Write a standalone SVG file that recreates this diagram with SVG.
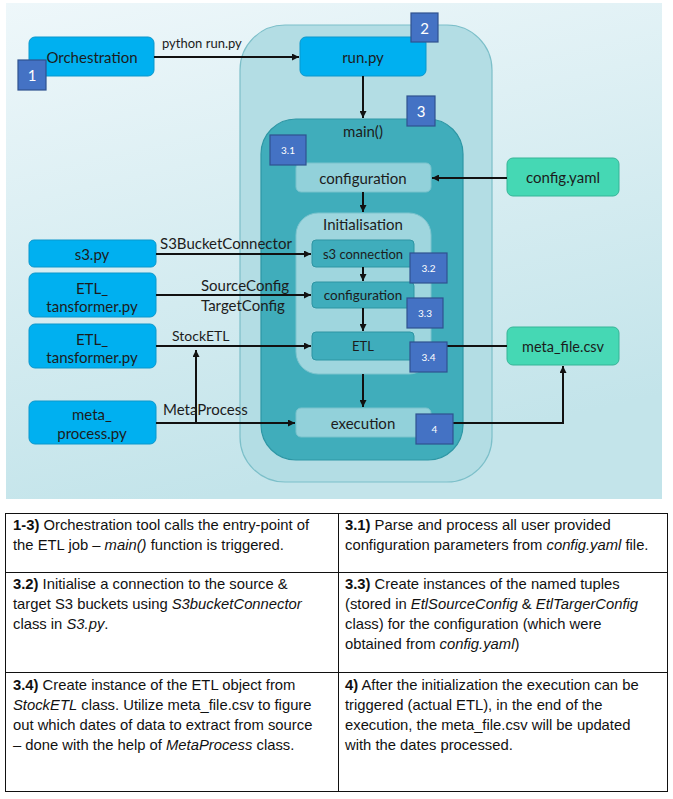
<svg xmlns="http://www.w3.org/2000/svg" width="673" height="799" viewBox="0 0 673 799">
<defs>
<linearGradient id="bg" x1="0" y1="0" x2="0.3" y2="1">
<stop offset="0" stop-color="#eef7fa"/>
<stop offset="1" stop-color="#c3e4ea"/>
</linearGradient>
<marker id="ah" viewBox="0 0 10 10" refX="10" refY="5" markerWidth="7" markerHeight="7" markerUnits="userSpaceOnUse" orient="auto">
<path d="M0,0 L10,5 L0,10 z" fill="#111"/>
</marker>
<style>
.blue{fill:#00b0f0;stroke:#0b97cc;stroke-width:1}
.mint{fill:#45d8b4;stroke:#36b497;stroke-width:1}
.badge{fill:#4472c4;stroke:#2f528f;stroke-width:1.2}
.outer{fill:#b3dde4;stroke:#7cbfc9;stroke-width:1.2}
.main{fill:#40adbb;stroke:#2e97a5;stroke-width:1.2}
.light{fill:#92d1da;stroke:#78c2cc;stroke-width:1}
.init{fill:#9fd6de;stroke:#7cc4ce;stroke-width:1}
.inner{fill:#3fadbc;stroke:#2e95a3;stroke-width:1}
.t{font-family:Lato,"Open Sans",sans-serif;fill:#1c1c1c;text-anchor:middle;dominant-baseline:central}
.bt{font-family:Lato,"Open Sans",sans-serif;fill:#ffffff;text-anchor:middle;dominant-baseline:central}
.lbl{font-family:Lato,"Open Sans",sans-serif;fill:#1c1c1c}
.c{stroke:#111;stroke-width:2;fill:none}
.tb{font-family:"Liberation Sans",Arial,sans-serif;font-size:14.8px;fill:#111}
.tl{stroke:#111;stroke-width:1;fill:none}
</style>
</defs>
<rect x="0" y="0" width="673" height="799" fill="#ffffff"/>
<rect x="6" y="3" width="656" height="496" fill="url(#bg)"/>

<g id="container-runpy"><rect class="outer" x="240" y="25" width="252" height="457" rx="45"/></g>
<g id="container-main"><rect class="main" x="261" y="119" width="202" height="341" rx="35"/>
<text class="t" x="363" y="131" font-size="15">main()</text></g>
<g id="configuration-main"><rect class="light" x="296" y="163" width="135" height="29" rx="5"/>
<text class="t" x="363" y="177.5" font-size="15">configuration</text></g>
<g id="container-initialisation"><rect class="init" x="296" y="213" width="135" height="161" rx="22"/>
<text class="t" x="363" y="224" font-size="15">Initialisation</text></g>
<g id="s3-connection"><rect class="inner" x="312" y="240" width="102" height="27" rx="4"/>
<text class="t" x="363" y="254" font-size="13">s3 connection</text></g>
<g id="configuration-init"><rect class="inner" x="312" y="282" width="102" height="26" rx="4"/>
<text class="t" x="363" y="295" font-size="13.5">configuration</text></g>
<g id="etl"><rect class="inner" x="312" y="332" width="102" height="28" rx="4"/>
<text class="t" x="363" y="346" font-size="13">ETL</text></g>
<g id="execution"><rect class="light" x="296" y="408" width="135" height="29" rx="5"/>
<text class="t" x="363" y="422.5" font-size="15">execution</text></g>

<g id="orchestration"><rect class="blue" x="29" y="37" width="125" height="39" rx="6"/>
<text class="t" x="92" y="56.5" font-size="15">Orchestration</text></g>
<g id="runpy"><rect class="blue" x="300" y="37" width="126" height="39" rx="6"/>
<text class="t" x="363" y="56.5" font-size="15">run.py</text></g>
<g id="s3py"><rect class="blue" x="29" y="240" width="127" height="27" rx="5"/>
<text class="t" x="92" y="254" font-size="15">s3.py</text></g>
<g id="etl-transformer-1"><rect class="blue" x="29" y="273" width="127" height="44" rx="6"/>
<text class="t" x="92" y="288" font-size="15">ETL_</text>
<text class="t" x="92" y="306" font-size="15">tansformer.py</text></g>
<g id="etl-transformer-2"><rect class="blue" x="29" y="324" width="127" height="44" rx="6"/>
<text class="t" x="92" y="339" font-size="15">ETL_</text>
<text class="t" x="92" y="357" font-size="15">tansformer.py</text></g>
<g id="meta-process"><rect class="blue" x="29" y="401" width="127" height="43" rx="6"/>
<text class="t" x="92" y="414" font-size="15">meta_</text>
<text class="t" x="92" y="433" font-size="15">process.py</text></g>
<g id="config-yaml"><rect class="mint" x="507" y="158" width="112" height="38" rx="6"/>
<text class="t" x="563" y="177" font-size="15">config.yaml</text></g>
<g id="meta-file"><rect class="mint" x="507" y="327" width="112" height="38" rx="6"/>
<text class="t" x="563" y="346" font-size="14.5">meta_file.csv</text></g>

<g id="connectors">
<line class="c" x1="154" y1="57" x2="299" y2="57" marker-end="url(#ah)"/>
<line class="c" x1="363" y1="76" x2="363" y2="118" marker-end="url(#ah)"/>
<line class="c" x1="507" y1="178" x2="432" y2="178" marker-end="url(#ah)"/>
<line class="c" x1="363" y1="192" x2="363" y2="212" marker-end="url(#ah)"/>
<line class="c" x1="363" y1="267" x2="363" y2="281" marker-end="url(#ah)"/>
<line class="c" x1="363" y1="308" x2="363" y2="331" marker-end="url(#ah)"/>
<line class="c" x1="363" y1="374" x2="363" y2="407" marker-end="url(#ah)"/>
<line class="c" x1="156" y1="254" x2="311" y2="254" marker-end="url(#ah)"/>
<line class="c" x1="156" y1="295" x2="311" y2="295" marker-end="url(#ah)"/>
<line class="c" x1="156" y1="346" x2="311" y2="346" marker-end="url(#ah)"/>
<line class="c" x1="156" y1="423" x2="295" y2="423" marker-end="url(#ah)"/>
<line class="c" x1="196" y1="423" x2="196" y2="350" marker-end="url(#ah)"/>
<line class="c" x1="447" y1="346" x2="507" y2="346"/>
<polyline class="c" points="453,423 563,423 563,366" marker-end="url(#ah)"/>
<text class="lbl" x="162" y="48" font-size="13">python run.py</text>
<text class="lbl" x="160" y="249" font-size="15">S3BucketConnector</text>
<text class="lbl" x="201" y="291" font-size="15">SourceConfig</text>
<text class="lbl" x="201" y="311" font-size="15">TargetConfig</text>
<text class="lbl" x="172" y="341" font-size="14">StockETL</text>
<text class="lbl" x="163" y="415" font-size="15">MetaProcess</text>
</g>

<g id="badges">
<g id="badge-1"><rect class="badge" x="18" y="60" width="28" height="30"/><text class="bt" x="32" y="75" font-size="15">1</text></g>
<g id="badge-2"><rect class="badge" x="411" y="13" width="27" height="29"/><text class="bt" x="424.5" y="27.5" font-size="15">2</text></g>
<g id="badge-3"><rect class="badge" x="407" y="96" width="28" height="30"/><text class="bt" x="421" y="111" font-size="15">3</text></g>
<g id="badge-3-1"><rect class="badge" x="270" y="135" width="36" height="30"/><text class="bt" x="288" y="150" font-size="10">3.1</text></g>
<g id="badge-3-2"><rect class="badge" x="410" y="253" width="37" height="30"/><text class="bt" x="428.5" y="268" font-size="10">3.2</text></g>
<g id="badge-3-3"><rect class="badge" x="407" y="298" width="36" height="30"/><text class="bt" x="425" y="313" font-size="10">3.3</text></g>
<g id="badge-3-4"><rect class="badge" x="410" y="342" width="37" height="30"/><text class="bt" x="428.5" y="357" font-size="10">3.4</text></g>
<g id="badge-4"><rect class="badge" x="416" y="414" width="37" height="30"/><text class="bt" x="434.5" y="429" font-size="10">4</text></g>
</g>

<g id="table">
<rect class="tl" x="5.5" y="513.5" width="662" height="278"/>
<line class="tl" x1="5.5" y1="572.5" x2="667.5" y2="572.5"/>
<line class="tl" x1="5.5" y1="672.5" x2="667.5" y2="672.5"/>
<line class="tl" x1="338.5" y1="513.5" x2="338.5" y2="791.5"/>
<text class="tb" x="13" y="530"><tspan font-weight="bold">1-3)</tspan> Orchestration tool calls the entry-point of</text>
<text class="tb" x="13" y="550">the ETL job – <tspan font-style="italic">main()</tspan> function is triggered.</text>
<text class="tb" x="345" y="530"><tspan font-weight="bold">3.1)</tspan> Parse and process all user provided</text>
<text class="tb" x="345" y="550">configuration parameters from <tspan font-style="italic">config.yaml</tspan> file.</text>
<text class="tb" x="13" y="589"><tspan font-weight="bold">3.2)</tspan> Initialise a connection to the source &amp;</text>
<text class="tb" x="13" y="609">target S3 buckets using <tspan font-style="italic">S3bucketConnector</tspan></text>
<text class="tb" x="13" y="629">class in <tspan font-style="italic">S3.py</tspan>.</text>
<text class="tb" x="345" y="589"><tspan font-weight="bold">3.3)</tspan> Create instances of the named tuples</text>
<text class="tb" x="345" y="609">(stored in <tspan font-style="italic">EtlSourceConfig</tspan> &amp; <tspan font-style="italic">EtlTargerConfig</tspan></text>
<text class="tb" x="345" y="629">class) for the configuration (which were</text>
<text class="tb" x="345" y="649">obtained from <tspan font-style="italic">config.yaml</tspan>)</text>
<text class="tb" x="13" y="690"><tspan font-weight="bold">3.4)</tspan> Create instance of the ETL object from</text>
<text class="tb" x="13" y="710"><tspan font-style="italic">StockETL</tspan> class. Utilize meta_file.csv to figure</text>
<text class="tb" x="13" y="730">out which dates of data to extract from source</text>
<text class="tb" x="13" y="750">– done with the help of <tspan font-style="italic">MetaProcess</tspan> class.</text>
<text class="tb" x="345" y="690"><tspan font-weight="bold">4)</tspan> After the initialization the execution can be</text>
<text class="tb" x="345" y="710">triggered (actual ETL), in the end of the</text>
<text class="tb" x="345" y="730">execution, the meta_file.csv will be updated</text>
<text class="tb" x="345" y="750">with the dates processed.</text>
</g>
</svg>
